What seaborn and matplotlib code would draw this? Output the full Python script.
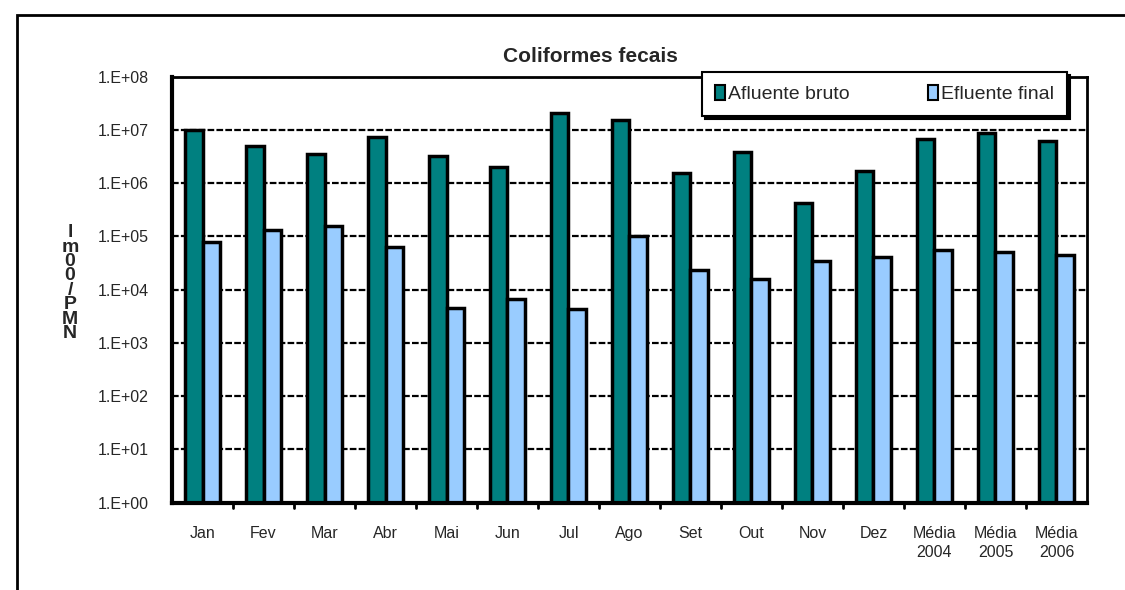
import matplotlib
matplotlib.use("Agg")
import matplotlib.pyplot as plt
import matplotlib.patches as mpatches
import seaborn as sns
import pandas as pd

# ---------- DATA ----------
months = ["Jan", "Fev", "Mar", "Abr", "Mai", "Jun", "Jul", "Ago", "Set", "Out",
          "Nov", "Dez", "Média\n2004", "Média\n2005", "Média\n2006"]
afluente = [1.0e7, 5.0e6, 3.6e6, 7.4e6, 3.2e6, 2.0e6, 2.05e7, 1.54e7, 1.54e6, 3.9e6,
            4.2e5, 1.7e6, 6.8e6, 8.9e6, 6.3e6]
efluente = [8.0e4, 1.3e5, 1.6e5, 6.3e4, 4.5e3, 6.7e3, 4.3e3, 1.0e5, 2.3e4, 1.6e4,
            3.4e4, 4.2e4, 5.6e4, 5.0e4, 4.4e4]
series = ["Afluente bruto", "Efluente final"]
y_ticks = [1e0, 1e1, 1e2, 1e3, 1e4, 1e5, 1e6, 1e7, 1e8]
y_labels = ["1.E+00", "1.E+01", "1.E+02", "1.E+03", "1.E+04",
            "1.E+05", "1.E+06", "1.E+07", "1.E+08"]

df = pd.DataFrame({
    "mes": months * 2,
    "valor": afluente + efluente,
    "serie": [series[0]] * len(months) + [series[1]] * len(months),
})

# ---------- STYLE ----------
sns.set_style("white")
plt.rcParams["font.family"] = ["Liberation Sans", "DejaVu Sans"]

fig = plt.figure(figsize=(11.25, 5.9), dpi=100)
ax = fig.add_axes([0.1529, 0.148, 0.8133, 0.722])

sns.barplot(data=df, x="mes", y="valor", hue="serie", order=months,
            palette=["#008080", "#99CCFF"], saturation=1, edgecolor="black",
            linewidth=2.5, width=0.58, gap=0, ax=ax, legend=True)

ax.set_yscale("log")
ax.set_ylim(1, 1e8)
ax.set_yticks(y_ticks)
ax.set_yticklabels(y_labels, fontsize=11.5)
ax.minorticks_off()
ax.set_xlim(-0.5, len(months) - 0.5)
ax.tick_params(axis="x", length=0, labelsize=11.5, pad=17)
ax.tick_params(axis="y", direction="inout", length=9, width=2, pad=12)
for lab in ax.get_xticklabels():
    lab.set_linespacing(1.3)
for b in range(1, len(months)):
    ax.axvline(b - 0.5, ymin=-0.012, ymax=0, color="black", lw=2, clip_on=False)

ax.yaxis.grid(True, color="black", linestyle=(0, (3, 1)), linewidth=1.6)
ax.set_axisbelow(True)
for s in ax.spines.values():
    s.set_color("black")
    s.set_linewidth(2)
ax.spines["left"].set_linewidth(3)
ax.spines["bottom"].set_linewidth(3)
ax.set_xlabel("")
ax.set_ylabel("")

# legend with shadow
leg = ax.legend(loc="upper right", bbox_to_anchor=(0.978, 1.01), ncol=2,
                fontsize=14, frameon=True, fancybox=False,
                shadow={"color": "black", "alpha": 1},
                handlelength=0.55, handleheight=0.8, handletextpad=0.15, columnspacing=4.0,
                borderpad=0.65, borderaxespad=0)
leg.get_frame().set_edgecolor("black")
leg.get_frame().set_linewidth(1.5)
for h in leg.legend_handles:
    h.set_linewidth(1.5)

fig.text(590 / 1125, 1 - 57 / 590, "Coliformes fecais", ha="center", va="center",
         fontsize=15, fontweight="bold")
fig.text(70 / 1125, 1 - 283 / 590, "l\nm\n0\n0\n/\nP\nM\nN", ha="center", va="center",
         fontsize=14, fontweight="bold", linespacing=0.8)

# chart area border
fig.patches.append(mpatches.Rectangle((17 / 1125, -0.2), 1.2, 1.2 - 15 / 590,
                                      transform=fig.transFigure, fill=False,
                                      edgecolor="black", linewidth=2))

fig.savefig("out.png", dpi=100)
